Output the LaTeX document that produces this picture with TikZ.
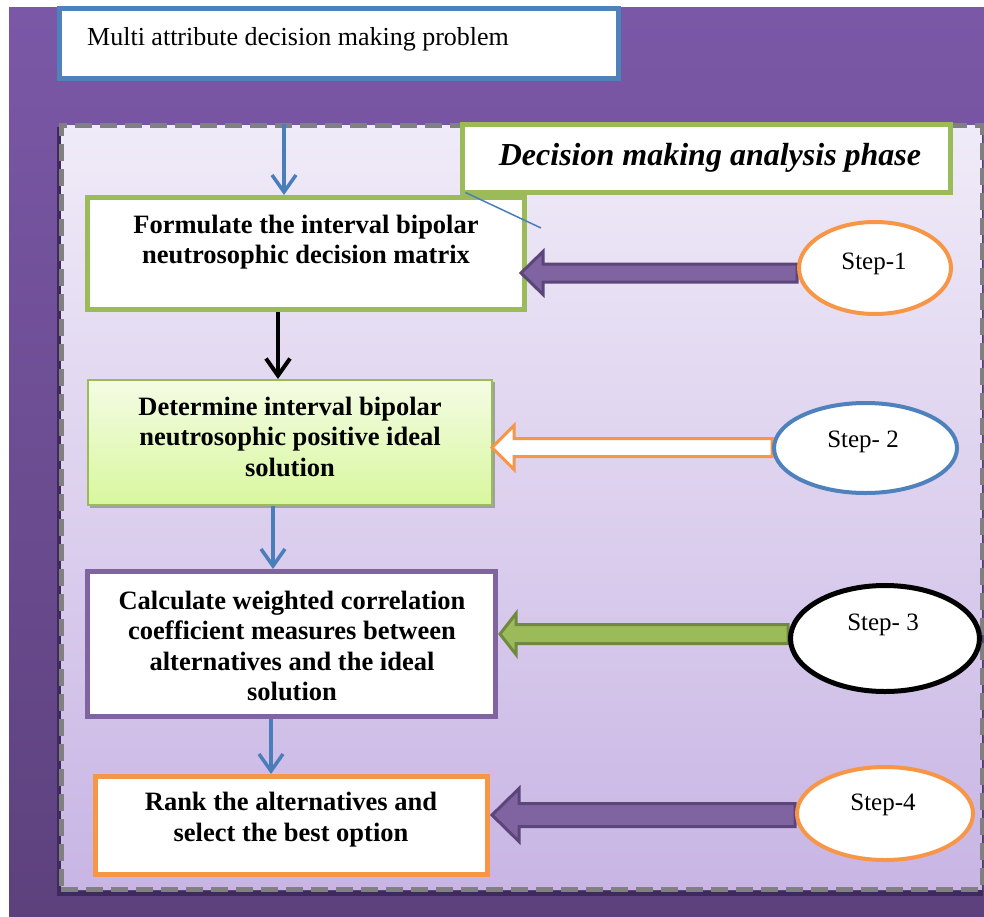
\documentclass[tikz,border=0pt]{standalone}
\usepackage{fontspec}
\setmainfont{Liberation Serif}
\usetikzlibrary{shapes.geometric,arrows.meta,calc}

\definecolor{bgtop}{HTML}{7B58A7}
\definecolor{bgbot}{HTML}{5D417D}
\definecolor{intop}{HTML}{F0EBF8}
\definecolor{inbot}{HTML}{C8B5E4}
\definecolor{mblue}{HTML}{4F81BD}
\definecolor{ablue}{HTML}{4A7EBB}
\definecolor{mgreen}{HTML}{9BBB59}
\definecolor{dgreen}{HTML}{71893F}
\definecolor{mpurple}{HTML}{8064A2}
\definecolor{dpurple}{HTML}{5C4679}
\definecolor{morange}{HTML}{F79646}
\definecolor{dgray}{HTML}{808080}
\definecolor{shadowp}{HTML}{3E2A5C}
\definecolor{gtop}{HTML}{F4FCE4}
\definecolor{gbot}{HTML}{D8F79E}
\definecolor{boxshadow}{HTML}{A0A0A0}

\newcommand\blockarrow[6]{%
  \draw[#1] let \p1=(#2), \p2=(#3) in
    (\x1,\y1) -- (\x1+#4,\y1+#5) -- (\x1+#4,\y1+#6) -- (\x2,\y1+#6)
    -- (\x2,\y1-#6) -- (\x1+#4,\y1-#6) -- (\x1+#4,\y1-#5) -- cycle;}

\tikzset{
  stepbox/.style={rectangle, inner sep=0pt, fill=white, line width=5pt},
  btext/.style={font=\fontsize{26.5}{30.5}\selectfont\bfseries, align=center, inner sep=0pt},
  stext/.style={font=\fontsize{25}{28}\selectfont, inner sep=0pt},
  flow/.style={ablue, line width=3.5pt, -{Straight Barb[length=17pt,width=24pt]}},
  stepell/.style={ellipse, fill=white, inner sep=0pt},
  blk/.style={line width=3pt, line join=miter},
}

\begin{document}
\begin{tikzpicture}[x=1pt,y=-1pt]
\useasboundingbox (0,0) rectangle (984,916);

% background
\shade[top color=bgtop, bottom color=bgbot] (9,7) rectangle (984,916);

% top box
\node[draw=mblue, line width=5pt, fill=white, minimum width=559pt, minimum height=70pt, inner sep=0pt] (topbox) at (338.5,43.5) {};
\node[anchor=base west, font=\fontsize{26}{30}\selectfont, inner sep=0pt] (toptxt) at (87,45) {Multi attribute decision making problem};

% phase frame
\node[draw=shadowp, line width=5pt, minimum width=921pt, minimum height=764pt, inner sep=0pt] (phaseshadow) at (519.5,511) {};
\node[top color=intop, bottom color=inbot, draw=dgray, line width=5pt, dash pattern=on 17pt off 8pt, minimum width=921pt, minimum height=764pt, inner sep=0pt] (phase) at (521.5,507) {};

% title
\node[draw=mgreen, line width=5pt, fill=white, minimum width=488pt, minimum height=68pt, inner sep=0pt] (title) at (706.5,158.5) {};
\node[font=\fontsize{32}{36}\selectfont\bfseries\itshape, inner sep=0pt] (titletxt) at (710,158) {Decision making analysis phase};

% boxes
\node[stepbox, draw=mgreen, minimum width=437pt, minimum height=112pt] (b1) at (306,253.5) {};
\node[fill=boxshadow, minimum width=405pt, minimum height=126pt, inner sep=0pt] (b2s) at (292.5,445) {};
\node[draw=mgreen, line width=2pt, top color=gtop, bottom color=gbot, minimum width=404pt, minimum height=125pt, inner sep=0pt] (b2) at (290,442.5) {};
\node[stepbox, draw=mpurple, minimum width=408pt, minimum height=145pt] (b3) at (291.5,644) {};
\node[stepbox, draw=morange, minimum width=392pt, minimum height=98pt] (b4) at (291.5,825.5) {};

\node[btext] (t1) at (306,242) {Formulate the interval bipolar\\neutrosophic decision matrix};
\node[btext] (t2) at (290,436.5) {Determine interval bipolar\\neutrosophic positive ideal\\solution};
\node[btext] (t3) at (292,646) {Calculate weighted correlation\\coefficient measures between\\alternatives and the ideal\\solution};
\node[btext] (t4) at (291,819.5) {Rank the alternatives and\\select the best option};

% vertical connectors
\coordinate (x1) at (284,124);
\coordinate (x2) at (278,0);
\coordinate (x3) at (273,0);
\coordinate (x4) at (271,0);
\draw[flow] (x1) -- (x1 |- b1.north);
\draw[flow, black, line width=4pt] (x2 |- b1.south) -- (x2 |- b2.north);
\draw[flow] (x3 |- b2.south) -- (x3 |- b3.north);
\draw[flow] (x4 |- b3.south) -- (x4 |- b4.north);

% thin callout line
\coordinate (lnend) at (541,228);
\draw[ablue, line width=1.5pt] ($(title.south west)+(5.5,-2.5)$) -- (lnend);

% ellipses (positions for arrow tails)
\node[stepell, minimum width=152pt, minimum height=92pt, line width=4pt] (e1) at (875,268) {};
\node[stepell, minimum width=183pt, minimum height=90pt, line width=4pt] (e2) at (865.5,448) {};
\node[stepell, minimum width=189pt, minimum height=106pt, line width=5pt] (e3) at (885,638.5) {};
\node[stepell, minimum width=176pt, minimum height=93pt, line width=4pt] (e4) at (885,813.5) {};

% block arrows
\coordinate (p1) at (521,273);
\coordinate (p2) at (492,447.5);
\coordinate (p3) at (500,634);
\coordinate (p4) at (492,815);
\blockarrow{blk, fill=mpurple, draw=dpurple}{p1}{e1.west}{22pt}{21.5pt}{9pt}
\blockarrow{blk, fill=white, draw=morange}{p2}{e2.west}{22pt}{22pt}{9pt}
\blockarrow{blk, fill=mgreen, draw=dgreen}{p3}{e3.west}{16pt}{20.5pt}{9.5pt}
\blockarrow{blk, fill=mpurple, draw=dpurple}{p4}{e4.west}{27pt}{26.5pt}{11.5pt}

% ellipses drawn on top
\node[stepell, draw=morange, line width=4pt, minimum width=152pt, minimum height=92pt] (e1b) at (e1) {};
\node[stepell, draw=mblue, line width=4pt, minimum width=183pt, minimum height=90pt] (e2b) at (e2) {};
\node[stepell, draw=black, line width=5pt, minimum width=189pt, minimum height=106pt] (e3b) at (e3) {};
\node[stepell, draw=morange, line width=4pt, minimum width=176pt, minimum height=93pt] (e4b) at (e4) {};

\node[stext] (s1) at (874,264) {Step-1};
\node[stext] (s2) at (863,442) {Step- 2};
\node[stext] (s3) at (883,625) {Step- 3};
\node[stext] (s4) at (883,805) {Step-4};
\end{tikzpicture}
\end{document}
